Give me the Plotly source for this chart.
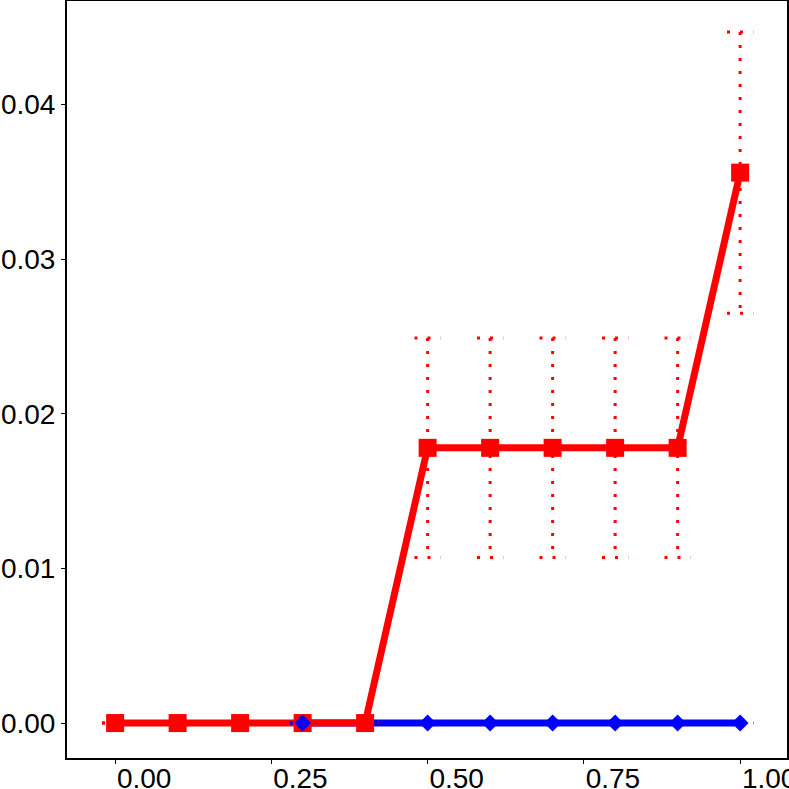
import plotly.graph_objects as go

# Data
red_x = [0.0, 0.1, 0.2, 0.3, 0.4, 0.5, 0.6, 0.7, 0.8, 0.9, 1.0]
red_y = [0.0, 0.0, 0.0, 0.0, 0.0, 0.0178, 0.0178, 0.0178, 0.0178, 0.0178, 0.0356]
red_err = [0.0, 0.0, 0.0, 0.0, 0.0, 0.0071, 0.0071, 0.0071, 0.0071, 0.0071, 0.0091]

blue_x = [0.3, 0.5, 0.6, 0.7, 0.8, 0.9, 1.0]
blue_y = [0.0, 0.0, 0.0, 0.0, 0.0, 0.0, 0.0]
blue_err = [0.0, 0.0, 0.0, 0.0, 0.0, 0.0, 0.0]

x_ticks = [0.0, 0.25, 0.5, 0.75, 1.0]
y_ticks = [0.0, 0.01, 0.02, 0.03, 0.04]

cap_w = 0.021  # half width of the error bar caps


def errorbar_path(xs, ys, errs):
    # build one dotted path: vertical bar plus two caps per point
    px, py = [], []
    for x, y, e in zip(xs, ys, errs):
        px += [x, x, None, x - cap_w, x + cap_w, None, x - cap_w, x + cap_w, None]
        py += [y + e, y - e, None, y + e, y + e, None, y - e, y - e, None]
    return px, py


fig = go.Figure()

# lines first
fig.add_trace(go.Scatter(x=blue_x, y=blue_y, mode='lines',
                         line=dict(color='#0000ff', width=7), showlegend=False))
fig.add_trace(go.Scatter(x=red_x, y=red_y, mode='lines',
                         line=dict(color='#ff0000', width=7), showlegend=False))

# points
fig.add_trace(go.Scatter(x=red_x, y=red_y, mode='markers',
                         marker=dict(symbol='square', size=18, color='#ff0000'),
                         showlegend=False))
fig.add_trace(go.Scatter(x=blue_x, y=blue_y, mode='markers',
                         marker=dict(symbol='diamond', size=13, color='#0000ff'),
                         showlegend=False))

# dotted error bars (red below blue)
for xs, ys, errs, col in [(red_x, red_y, red_err, '#ff0000'),
                          (blue_x, blue_y, blue_err, '#0000ff')]:
    ex, ey = errorbar_path(xs, ys, errs)
    fig.add_trace(go.Scatter(x=ex, y=ey, mode='lines', connectgaps=False,
                             line=dict(color=col, width=3, dash='3px,10px'),
                             showlegend=False, hoverinfo='skip'))

axis_style = dict(
    showgrid=False, zeroline=False,
    showline=True, mirror=True, linecolor='black', linewidth=2,
    ticks='outside', ticklen=4, tickwidth=1, tickcolor='black',
    tickfont=dict(family='Liberation Sans, Arial, sans-serif', size=28, color='black'),
    automargin=False, ticklabeloverflow='allow',
)

fig.update_layout(
    width=789, height=789,
    margin=dict(l=67, r=2, t=1, b=31),
    paper_bgcolor='white', plot_bgcolor='white',
    # x labels start at their tick in the reference, so shift them right
    xaxis=dict(range=[-0.077, 1.075], tickvals=x_ticks, tickformat='.2f',
               ticklabelstandoff=-10, ticklabelshift=29, **axis_style),
    yaxis=dict(range=[-0.00226, 0.0467], tickvals=y_ticks, tickformat='.2f', **axis_style),
)

# drop the default page margin so the figure sits at the window corner
fig.write_html("out.html", config={'displayModeBar': False},
               post_script="document.body.style.margin='0';")
